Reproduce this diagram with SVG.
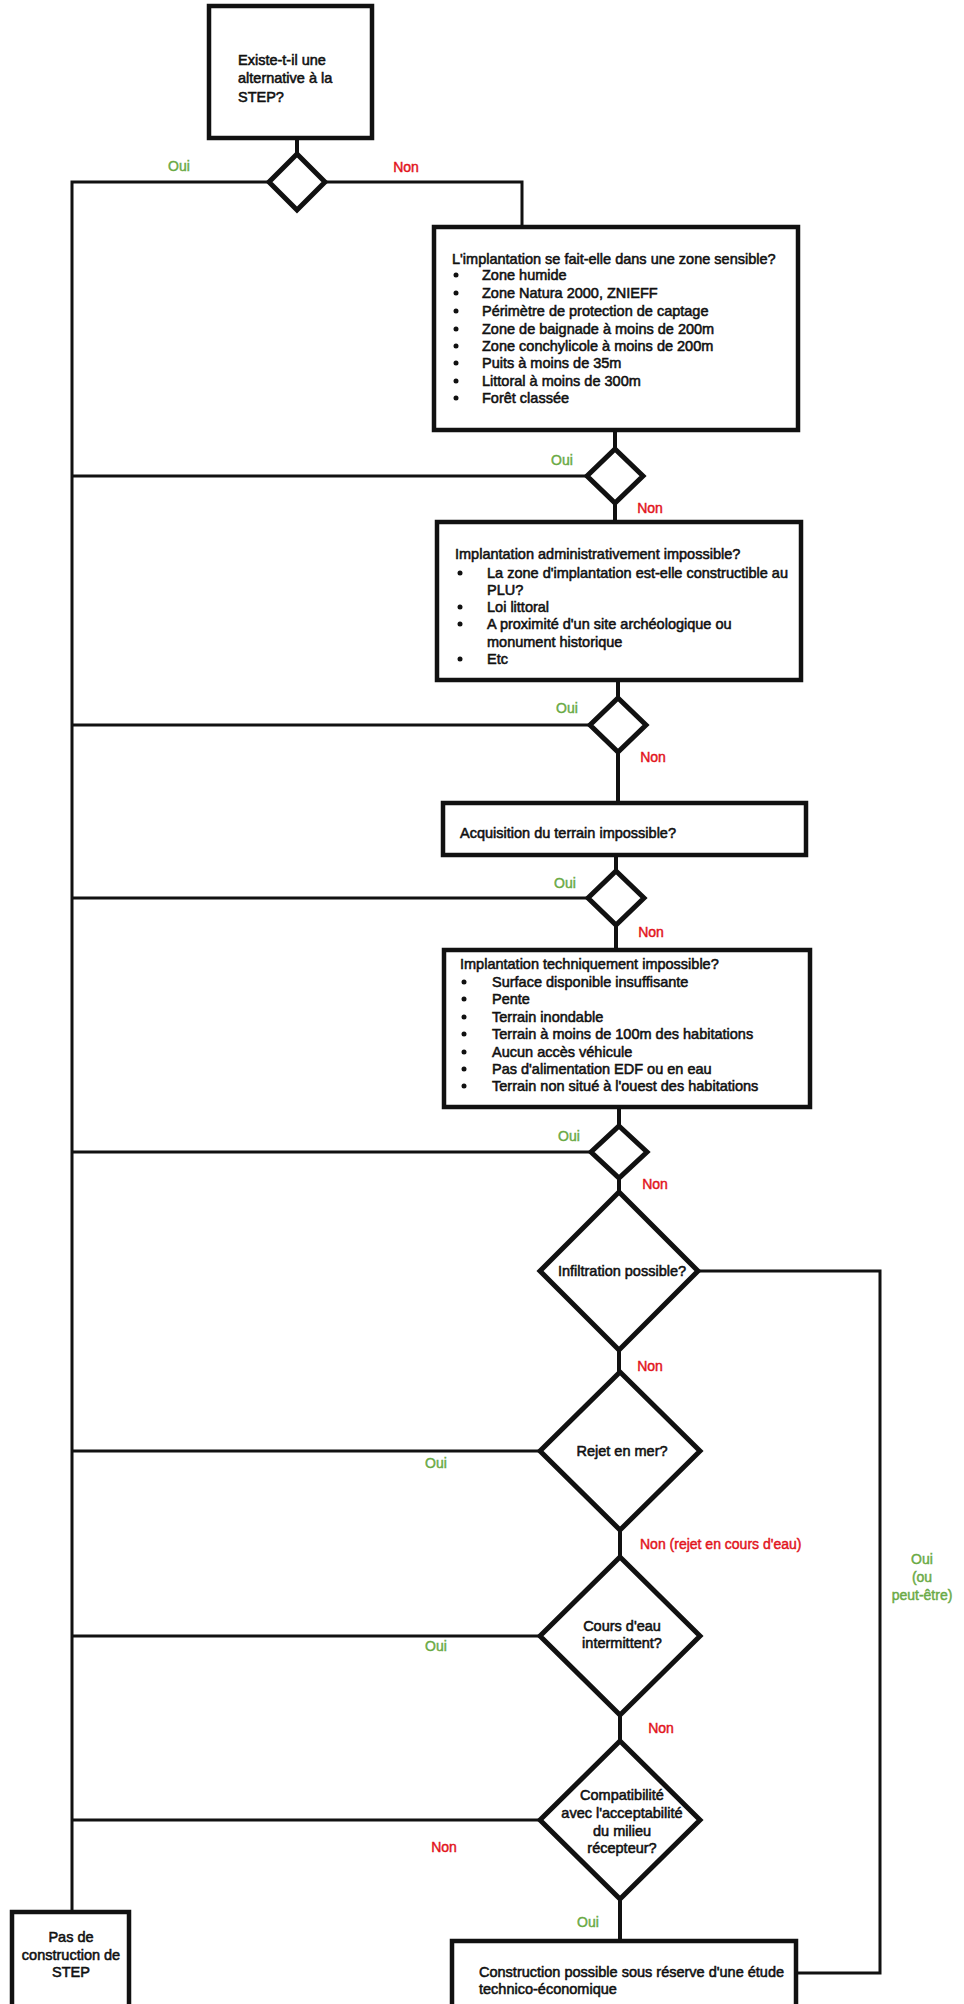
<svg xmlns="http://www.w3.org/2000/svg" width="964" height="2004" viewBox="0 0 964 2004">
<defs>
<style>
.bx{fill:#fff;stroke:#111;stroke-width:4.5}
.dm{fill:#fff;stroke:#111;stroke-width:5;stroke-linejoin:miter}
.ln{fill:none;stroke:#111;stroke-width:3}
.st{fill:none;stroke:#111;stroke-width:4}
text{font-family:"Liberation Sans",Arial,sans-serif;font-size:14.5px;fill:#111;stroke:#111;stroke-width:0.55}
.c{text-anchor:middle}
.oui{fill:#6aaa46;stroke:#6aaa46;font-size:14px;stroke-width:0.45}
.non{fill:#e2141c;stroke:#e2141c;font-size:14px;stroke-width:0.45}
.b{fill:#111}
</style>
</defs>
<g id="connectors">
<path class="st" d="M297 138V156"/>
<path class="ln" d="M269 182H72V1912"/>
<path class="ln" d="M325 182H522V227"/>
<path class="st" d="M615 430V449"/>
<path class="ln" d="M587 476H72"/>
<path class="st" d="M615 503V522"/>
<path class="st" d="M618 680V698"/>
<path class="ln" d="M590 725H72"/>
<path class="st" d="M618 752V803"/>
<path class="st" d="M616 855V871"/>
<path class="ln" d="M588 898H72"/>
<path class="st" d="M616 925V950"/>
<path class="st" d="M619 1107V1126"/>
<path class="ln" d="M591 1152H72"/>
<path class="st" d="M619 1178V1192"/>
<path class="ln" d="M698 1271H880V1973H796"/>
<path class="st" d="M619 1350V1372"/>
<path class="ln" d="M540 1451H72"/>
<path class="st" d="M620 1530V1557"/>
<path class="ln" d="M540 1636H72"/>
<path class="st" d="M620 1715V1741"/>
<path class="ln" d="M540 1820H72"/>
<path class="st" d="M620 1899V1941"/>
</g>
<g id="labels">
<text class="oui c" x="179" y="171">Oui</text>
<text class="non c" x="406" y="172">Non</text>
<text class="oui c" x="562" y="465">Oui</text>
<text class="non c" x="650" y="513">Non</text>
<text class="oui c" x="567" y="713">Oui</text>
<text class="non c" x="653" y="762">Non</text>
<text class="oui c" x="565" y="888">Oui</text>
<text class="non c" x="651" y="937">Non</text>
<text class="oui c" x="569" y="1141">Oui</text>
<text class="non c" x="655" y="1189">Non</text>
<text class="non c" x="650" y="1371">Non</text>
<text class="oui c" x="436" y="1468">Oui</text>
<text class="non" x="640" y="1549">Non (rejet en cours d'eau)</text>
<text class="oui c" x="436" y="1651">Oui</text>
<text class="non c" x="661" y="1733">Non</text>
<text class="non c" x="444" y="1852">Non</text>
<text class="oui c" x="588" y="1927">Oui</text>
<text class="oui c" x="922" y="1564">Oui</text>
<text class="oui c" x="922" y="1582">(ou</text>
<text class="oui c" x="922" y="1600">peut-être)</text>
</g>
<g id="n1">
<rect class="bx" x="209" y="6" width="163" height="132"/>
<text x="238" y="65">Existe-t-il une</text>
<text x="238" y="83">alternative à la</text>
<text x="238" y="102">STEP?</text>
</g>
<g id="d1"><path class="dm" d="M297 154L325 182L297 210L269 182Z"/></g>
<g id="n2">
<rect class="bx" x="434" y="227" width="364" height="203"/>
<text x="452" y="264">L'implantation se fait-elle dans une zone sensible?</text>
<circle class="b" cx="456" cy="275" r="2.5"/><text x="482" y="280">Zone humide</text>
<circle class="b" cx="456" cy="293" r="2.5"/><text x="482" y="298">Zone Natura 2000, ZNIEFF</text>
<circle class="b" cx="456" cy="311" r="2.5"/><text x="482" y="316">Périmètre de protection de captage</text>
<circle class="b" cx="456" cy="329" r="2.5"/><text x="482" y="334">Zone de baignade à moins de 200m</text>
<circle class="b" cx="456" cy="346" r="2.5"/><text x="482" y="351">Zone conchylicole à moins de 200m</text>
<circle class="b" cx="456" cy="363" r="2.5"/><text x="482" y="368">Puits à moins de 35m</text>
<circle class="b" cx="456" cy="381" r="2.5"/><text x="482" y="386">Littoral à moins de 300m</text>
<circle class="b" cx="456" cy="398" r="2.5"/><text x="482" y="403">Forêt classée</text>
</g>
<g id="d2"><path class="dm" d="M615 449L643 476L615 503L587 476Z"/></g>
<g id="n3">
<rect class="bx" x="437" y="522" width="364" height="158"/>
<text x="455" y="559">Implantation administrativement impossible?</text>
<circle class="b" cx="460" cy="573" r="2.5"/><text x="487" y="578">La zone d'implantation est-elle constructible au</text>
<text x="487" y="595">PLU?</text>
<circle class="b" cx="460" cy="607" r="2.5"/><text x="487" y="612">Loi littoral</text>
<circle class="b" cx="460" cy="624" r="2.5"/><text x="487" y="629">A proximité d'un site archéologique ou</text>
<text x="487" y="647">monument historique</text>
<circle class="b" cx="460" cy="659" r="2.5"/><text x="487" y="664">Etc</text>
</g>
<g id="d3"><path class="dm" d="M618 698L646 725L618 752L590 725Z"/></g>
<g id="n4">
<rect class="bx" x="443" y="803" width="363" height="52"/>
<text x="460" y="838">Acquisition du terrain impossible?</text>
</g>
<g id="d4"><path class="dm" d="M616 871L644 898L616 925L588 898Z"/></g>
<g id="n5">
<rect class="bx" x="444" y="950" width="366" height="157"/>
<text x="460" y="969">Implantation techniquement impossible?</text>
<circle class="b" cx="464" cy="982" r="2.5"/><text x="492" y="987">Surface disponible insuffisante</text>
<circle class="b" cx="464" cy="999" r="2.5"/><text x="492" y="1004">Pente</text>
<circle class="b" cx="464" cy="1017" r="2.5"/><text x="492" y="1022">Terrain inondable</text>
<circle class="b" cx="464" cy="1034" r="2.5"/><text x="492" y="1039">Terrain à moins de 100m des habitations</text>
<circle class="b" cx="464" cy="1052" r="2.5"/><text x="492" y="1057">Aucun accès véhicule</text>
<circle class="b" cx="464" cy="1069" r="2.5"/><text x="492" y="1074">Pas d'alimentation EDF ou en eau</text>
<circle class="b" cx="464" cy="1086" r="2.5"/><text x="492" y="1091">Terrain non situé à l'ouest des habitations</text>
</g>
<g id="d5"><path class="dm" d="M619 1126L647 1152L619 1178L591 1152Z"/></g>
<g id="d6">
<path class="dm" d="M619 1192L698 1271L619 1350L540 1271Z"/>
<text class="c" x="622" y="1276">Infiltration possible?</text>
</g>
<g id="d7">
<path class="dm" d="M620 1372L700 1451L620 1530L540 1451Z"/>
<text class="c" x="622" y="1456">Rejet en mer?</text>
</g>
<g id="d8">
<path class="dm" d="M620 1557L700 1636L620 1715L540 1636Z"/>
<text class="c" x="622" y="1631">Cours d'eau</text>
<text class="c" x="622" y="1648">intermittent?</text>
</g>
<g id="d9">
<path class="dm" d="M620 1741L700 1820L620 1899L540 1820Z"/>
<text class="c" x="622" y="1800">Compatibilité</text>
<text class="c" x="622" y="1818">avec l'acceptabilité</text>
<text class="c" x="622" y="1836">du milieu</text>
<text class="c" x="622" y="1853">récepteur?</text>
</g>
<g id="n6">
<rect class="bx" x="452" y="1941" width="344" height="80"/>
<text x="479" y="1977">Construction possible sous réserve d'une étude</text>
<text x="479" y="1994">technico-économique</text>
</g>
<g id="n7">
<rect class="bx" x="12" y="1912" width="117" height="110"/>
<text class="c" x="71" y="1942">Pas de</text>
<text class="c" x="71" y="1960">construction de</text>
<text class="c" x="71" y="1977">STEP</text>
</g>
</svg>
